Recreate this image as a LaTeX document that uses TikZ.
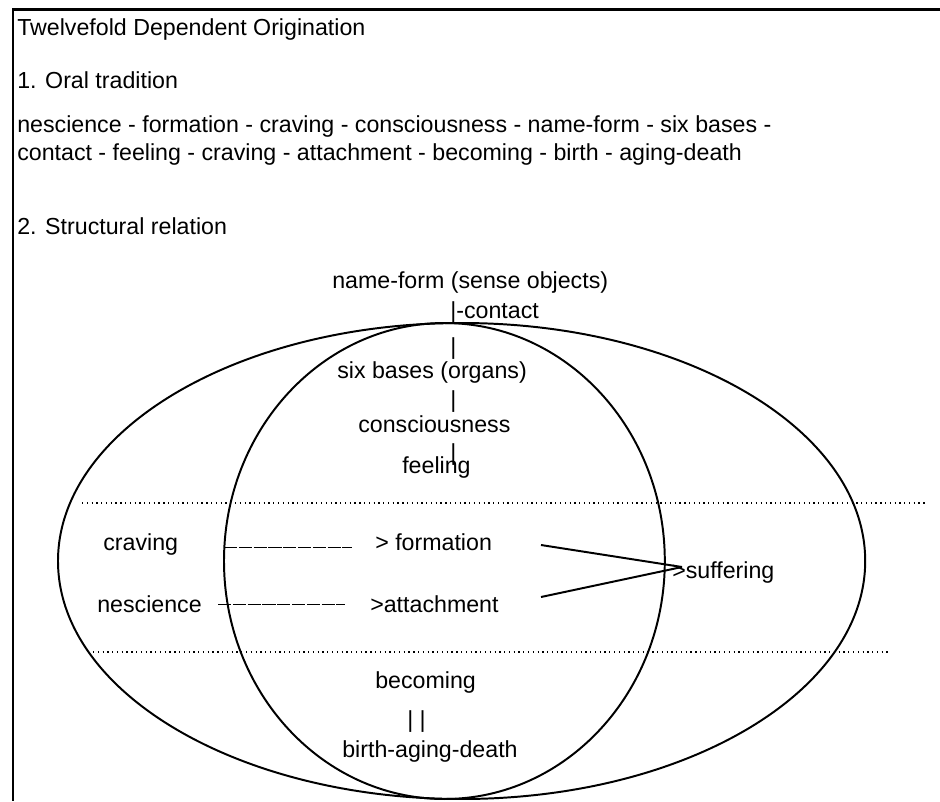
\documentclass[tikz,border=0pt]{standalone}
\usepackage{fontspec}
\setmainfont{Liberation Sans}
\usepackage{tikz}

\tikzset{
  txt/.style={inner sep=0pt, anchor=base west, font=\fontsize{16.5}{20}\selectfont},
  ell/.style={line width=1.4pt},
  dotline/.style={line width=1.1pt, dash pattern=on 0.9pt off 2.5pt},
  dashline/.style={line width=0.7pt, dash pattern=on 0.33cm off 0.04cm},
  arrline/.style={line width=1.4pt},
  frameline/.style={line width=2.1pt}
}

\begin{document}
\begin{tikzpicture}
        \useasboundingbox (0,0) rectangle (23.5,-20.025);
\draw[frameline] (0.3, -0.24)  -- (23.5, -0.24) ; % frame.top 
\draw[frameline] (0.325, -0.24)  -- (0.325, -20.025) ; % frame.left 
\node[txt] (title) at (0.425, -0.875) {Twelvefold Dependent Origination}; % heading 
\node[txt] (oral) at (0.425, -2.2) {1. Oral tradition}; % part.1 
\node[txt] (seqA) at (0.425, -3.3) {nescience - formation - craving - consciousness - name-form - six bases -}; % part.1 
\node[txt] (seqB) at (0.425, -4.0) {contact - feeling - craving - attachment - becoming - birth - aging-death}; % part.1 
\node[txt] (structural) at (0.425, -5.85) {2. Structural relation}; % part.2 
\draw[ell] (11.54, -14.025) ellipse (10.09 and 5.95) ; % outer 
\draw[ell] (11.11, -14.025) ellipse (5.51 and 5.95) ; % inner 
\node[txt] (nameform) at (8.3, -7.2) {name-form (sense objects)}; % top 
\node[txt] (contact) at (11.25, -7.95) {|-contact}; % top 
\node[txt] (barA) at (11.25, -8.85) {|}; % top 
\node[txt] (sixbases) at (8.425, -9.45) {six bases (organs)}; % top 
\node[txt] (barB) at (11.25, -10.175) {|}; % top 
\node[txt] (consc) at (8.95, -10.8) {consciousness}; % top 
\node[txt] (barC) at (11.25, -11.5) {|}; % top 
\node[txt] (feeling) at (10.05, -11.825) {feeling}; % top 
\draw[dotline] (2.05, -12.575)  -- (23.175, -12.575) ; % divider.1 
\node[txt] (craving) at (2.575, -13.75) {craving}; % middle 
\node[txt] (formation) at (9.375, -13.75) {> formation}; % middle 
\node[txt] (nescience) at (2.425, -15.3) {nescience}; % middle 
\node[txt] (attach) at (9.25, -15.3) {>attachment}; % middle 
\node[txt] (suffering) at (16.8, -14.45) {>suffering}; % middle 
\coordinate (cravEnd) at (5.6, -13.675) ; % middle 
\coordinate (nescEnd) at (5.45, -15.1) ; % middle 
\draw[dashline] (cravEnd)  -- ++(3.2, 0) ; % craving.dash 
\draw[dashline] (nescEnd)  -- ++(3.175, 0) ; % nescience.dash 
\coordinate (formOut) at (13.525, -13.625) ; % middle 
\coordinate (attOut) at (13.525, -14.925) ; % middle 
\coordinate (suffTip) at (17.05, -14.175) ; % middle 
\draw[arrline] (formOut)  -- (suffTip) ; % formation.suffering 
\draw[arrline] (attOut)  -- (suffTip) ; % attachment.suffering 
\draw[dotline] (2.325, -16.3)  -- (22.2, -16.3) ; % divider.2 
\node[txt] (becoming) at (9.375, -17.2) {becoming}; % bottom 
\node[txt] (barD) at (10.175, -18.175) {| |}; % bottom 
\node[txt] (birth) at (8.55, -18.925) {birth-aging-death}; % bottom 

        \end{tikzpicture}
\end{document}
